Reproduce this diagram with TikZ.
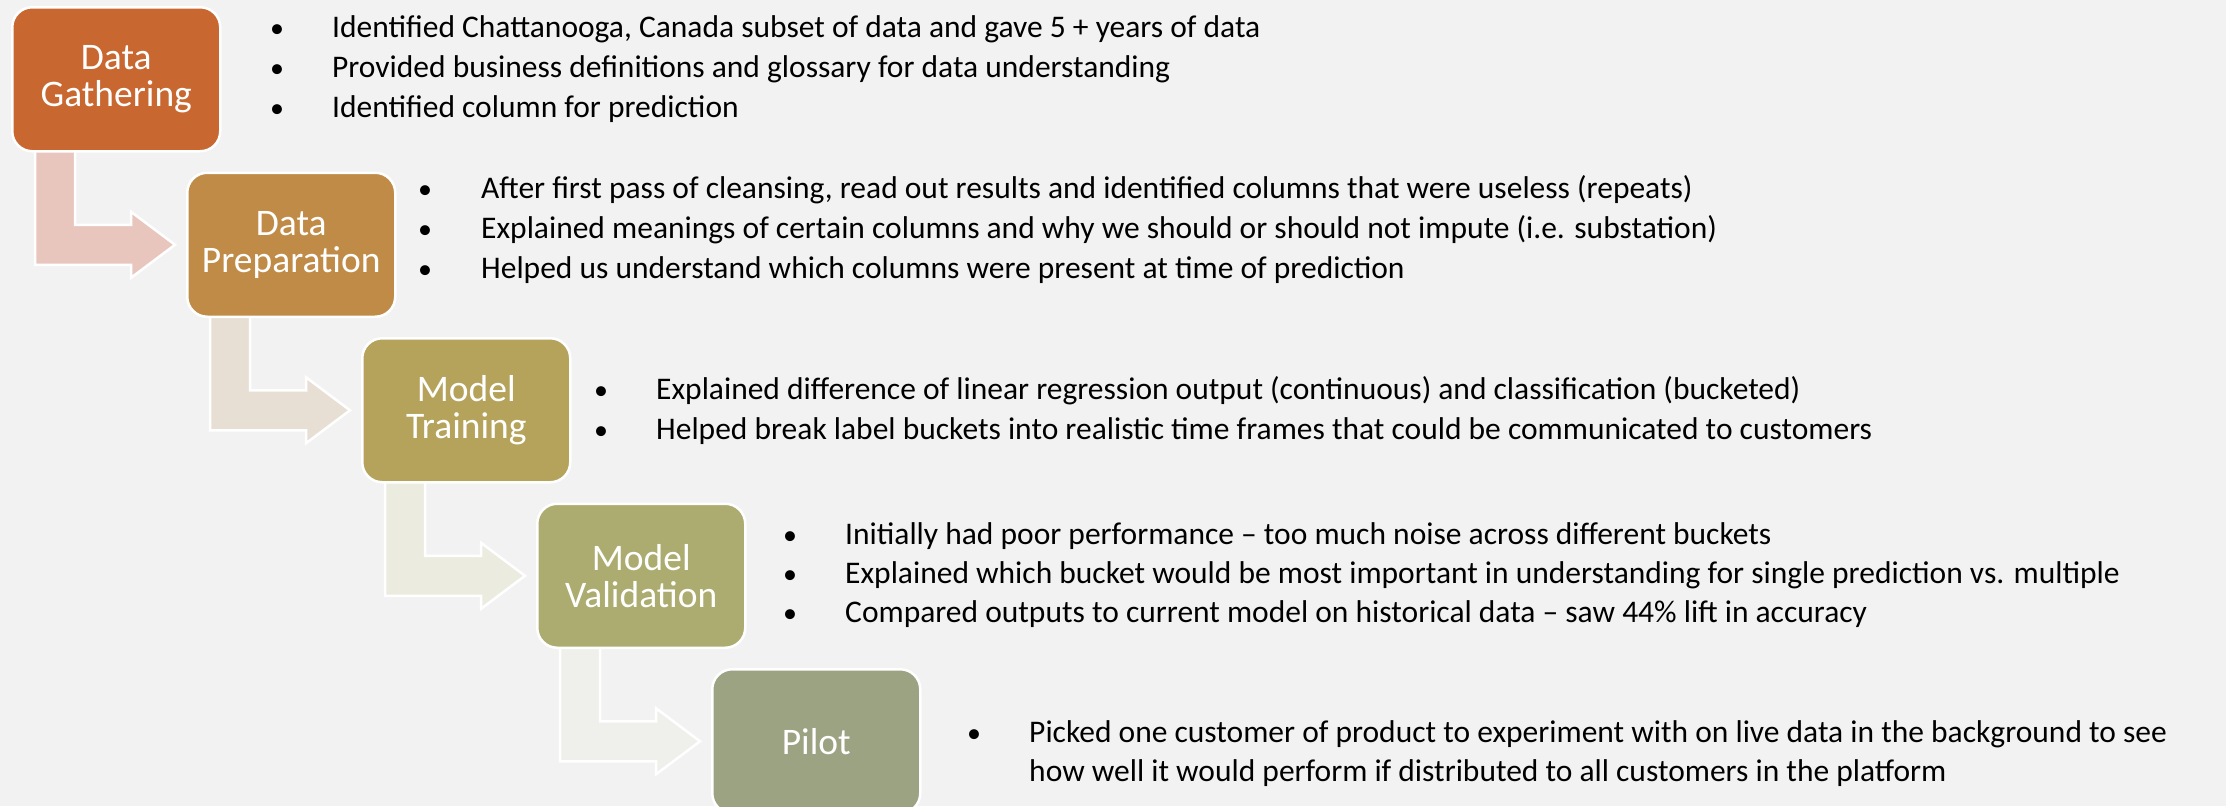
\documentclass[tikz,border=0pt]{standalone}
\usepackage{fontspec}
\setmainfont{Carlito}
\usetikzlibrary{calc}
\pgfdeclarelayer{bgl}
\pgfdeclarelayer{arr}
\pgfsetlayers{bgl,arr,main}
\definecolor{bg}{HTML}{F2F2F2}
\definecolor{s1}{HTML}{C8672F}
\definecolor{s2}{HTML}{C08B46}
\definecolor{s3}{HTML}{B5A35C}
\definecolor{s4}{HTML}{ACAC70}
\definecolor{s5}{HTML}{9CA382}
\definecolor{a1}{HTML}{E8C6BE}
\definecolor{a2}{HTML}{E8DFD4}
\definecolor{a3}{HTML}{EBEBE0}
\definecolor{a4}{HTML}{EFEFEB}
\newcommand\bentflow[3]{%
  \path[flow, fill=#3] let \p1=(#1.south west), \p2=($(#2.west)+(-11,0)$) in
    (\x1+24,\y1+6) -- (\x1+64,\y1+6) -- (\x1+64,\y2+20) -- (\x2-44,\y2+20)
    -- (\x2-44,\y2+33) -- (\x2,\y2) -- (\x2-44,\y2-33) -- (\x2-44,\y2-20)
    -- (\x1+24,\y2-20) -- cycle;}
\begin{document}
\begin{tikzpicture}[x=1pt,y=-1pt,
  stage/.style={draw=white, line width=2.5pt, rounded corners=20pt,
    minimum width=208pt, minimum height=144pt, anchor=north west,
    text=white, align=center, inner sep=0pt,
    font=\fontsize{37.5}{37}\selectfont},
  bul/.style={anchor=base, inner sep=0pt, font=\fontsize{28}{34}\selectfont},
  txt/.style={anchor=base west, inner sep=0pt, font=\fontsize{31.5}{36}\selectfont},
  flow/.style={draw=white, line width=2.5pt, line join=miter}]
\useasboundingbox (0,0) rectangle (2226,806);
\begin{pgfonlayer}{bgl}
\fill[bg] (0,0) rectangle (2226,806);
\end{pgfonlayer}

\node[stage, fill=s1] (b1) at (11,6) {Data\\Gathering};
\node[stage, fill=s2] (b2) at (186,171.5) {Data\\Preparation};
\node[stage, fill=s3] (b3) at (361,337) {Model\\Training};
\node[stage, fill=s4] (b4) at (536,502.5) {Model\\Validation};
\node[stage, fill=s5] (b5) at (711,668) {Pilot};

\begin{pgfonlayer}{arr}
\bentflow{b1}{b2}{a1}
\bentflow{b2}{b3}{a2}
\bentflow{b3}{b4}{a3}
\bentflow{b4}{b5}{a4}
\end{pgfonlayer}

% block 1
\node[bul] (d1a) at (277,37) {•};
\node[bul] (d1b) at (277,77) {•};
\node[bul] (d1c) at (277,117) {•};
\node[txt] (t1a) at (332,37) {Identified Chattanooga, Canada subset of data and gave 5 + years of data};
\node[txt] (t1b) at (332,77) {Provided business definitions and glossary for data understanding};
\node[txt] (t1c) at (332,117) {Identified column for prediction};
% block 2
\node[bul] (d2a) at (425,198) {•};
\node[bul] (d2b) at (425,238) {•};
\node[bul] (d2c) at (425,278) {•};
\node[txt] (t2a) at (481,198) {After first pass of cleansing, read out results and identified columns that were useless (repeats)};
\node[txt] (t2b) at (481,238) {Explained meanings of certain columns and why we should or should not impute (i.e. substation)};
\node[txt] (t2c) at (481,278) {Helped us understand which columns were present at time of prediction};
% block 3
\node[bul] (d3a) at (601,399) {•};
\node[bul] (d3b) at (601,439) {•};
\node[txt] (t3a) at (656,399) {Explained difference of linear regression output (continuous) and classification (bucketed)};
\node[txt] (t3b) at (656,439) {Helped break label buckets into realistic time frames that could be communicated to customers};
% block 4
\node[bul] (d4a) at (790,544) {•};
\node[bul] (d4b) at (790,583) {•};
\node[bul] (d4c) at (790,622) {•};
\node[txt] (t4a) at (845,544) {Initially had poor performance – too much noise across different buckets};
\node[txt] (t4b) at (845,583) {Explained which bucket would be most important in understanding for single prediction vs. multiple};
\node[txt] (t4c) at (845,622) {Compared outputs to current model on historical data – saw 44\% lift in accuracy};
% block 5
\node[bul] (d5a) at (974,742) {•};
\node[txt] (t5a) at (1029,742) {Picked one customer of product to experiment with on live data in the background to see};
\node[txt] (t5b) at (1029,781) {how well it would perform if distributed to all customers in the platform};
\end{tikzpicture}
\end{document}
